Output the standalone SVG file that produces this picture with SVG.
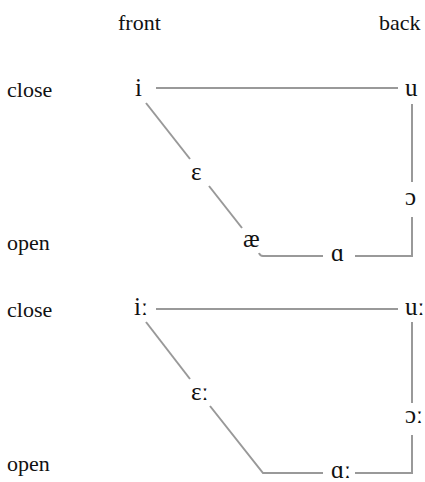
<svg xmlns="http://www.w3.org/2000/svg" width="425" height="482" viewBox="0 0 425 482">
<style>
text{font-family:'Liberation Serif','Times New Roman',serif;font-size:22px;fill:#111}
.v{font-size:25px}
.ln{fill:none;stroke:#999;stroke-width:2}
</style>
<rect width="425" height="482" fill="#fff"/>
<g id="axis-labels">
<text x="118" y="30">front</text>
<text x="379" y="30">back</text>
<text x="7" y="97">close</text>
<text x="7" y="250">open</text>
<text x="7" y="317">close</text>
<text x="7" y="471">open</text>
</g>
<g id="connectors">
<path class="ln" d="M156 88H398"/>
<path class="ln" d="M412 104V182"/>
<path class="ln" d="M412 217V256H355"/>
<path class="ln" d="M323 256H263Q260 256 259 253"/>
<path class="ln" d="M146 103L190 159"/>
<path class="ln" d="M209 186L242 228"/>
<path class="ln" d="M156 309H398"/>
<path class="ln" d="M412 322V403"/>
<path class="ln" d="M412 435V473H355"/>
<path class="ln" d="M323 473H263L210 406"/>
<path class="ln" d="M146 322L190 379"/>
</g>
<g id="n-i"><text class="v" x="135" y="96">i</text></g>
<g id="n-u"><text class="v" x="405" y="96">u</text></g>
<g id="n-e"><text class="v" x="191" y="180">ɛ</text></g>
<g id="n-o"><text class="v" x="405" y="205">ɔ</text></g>
<g id="n-ae"><text class="v" x="243" y="247">æ</text></g>
<g id="n-a"><text class="v" x="331" y="261">ɑ</text></g>
<g id="n-ii"><text class="v" x="134" y="315">iː</text></g>
<g id="n-uu"><text class="v" x="405" y="315">uː</text></g>
<g id="n-ee"><text class="v" x="191" y="400">ɛː</text></g>
<g id="n-oo"><text class="v" x="405" y="423">ɔː</text></g>
<g id="n-aa"><text class="v" x="331" y="478">ɑː</text></g>
</svg>
